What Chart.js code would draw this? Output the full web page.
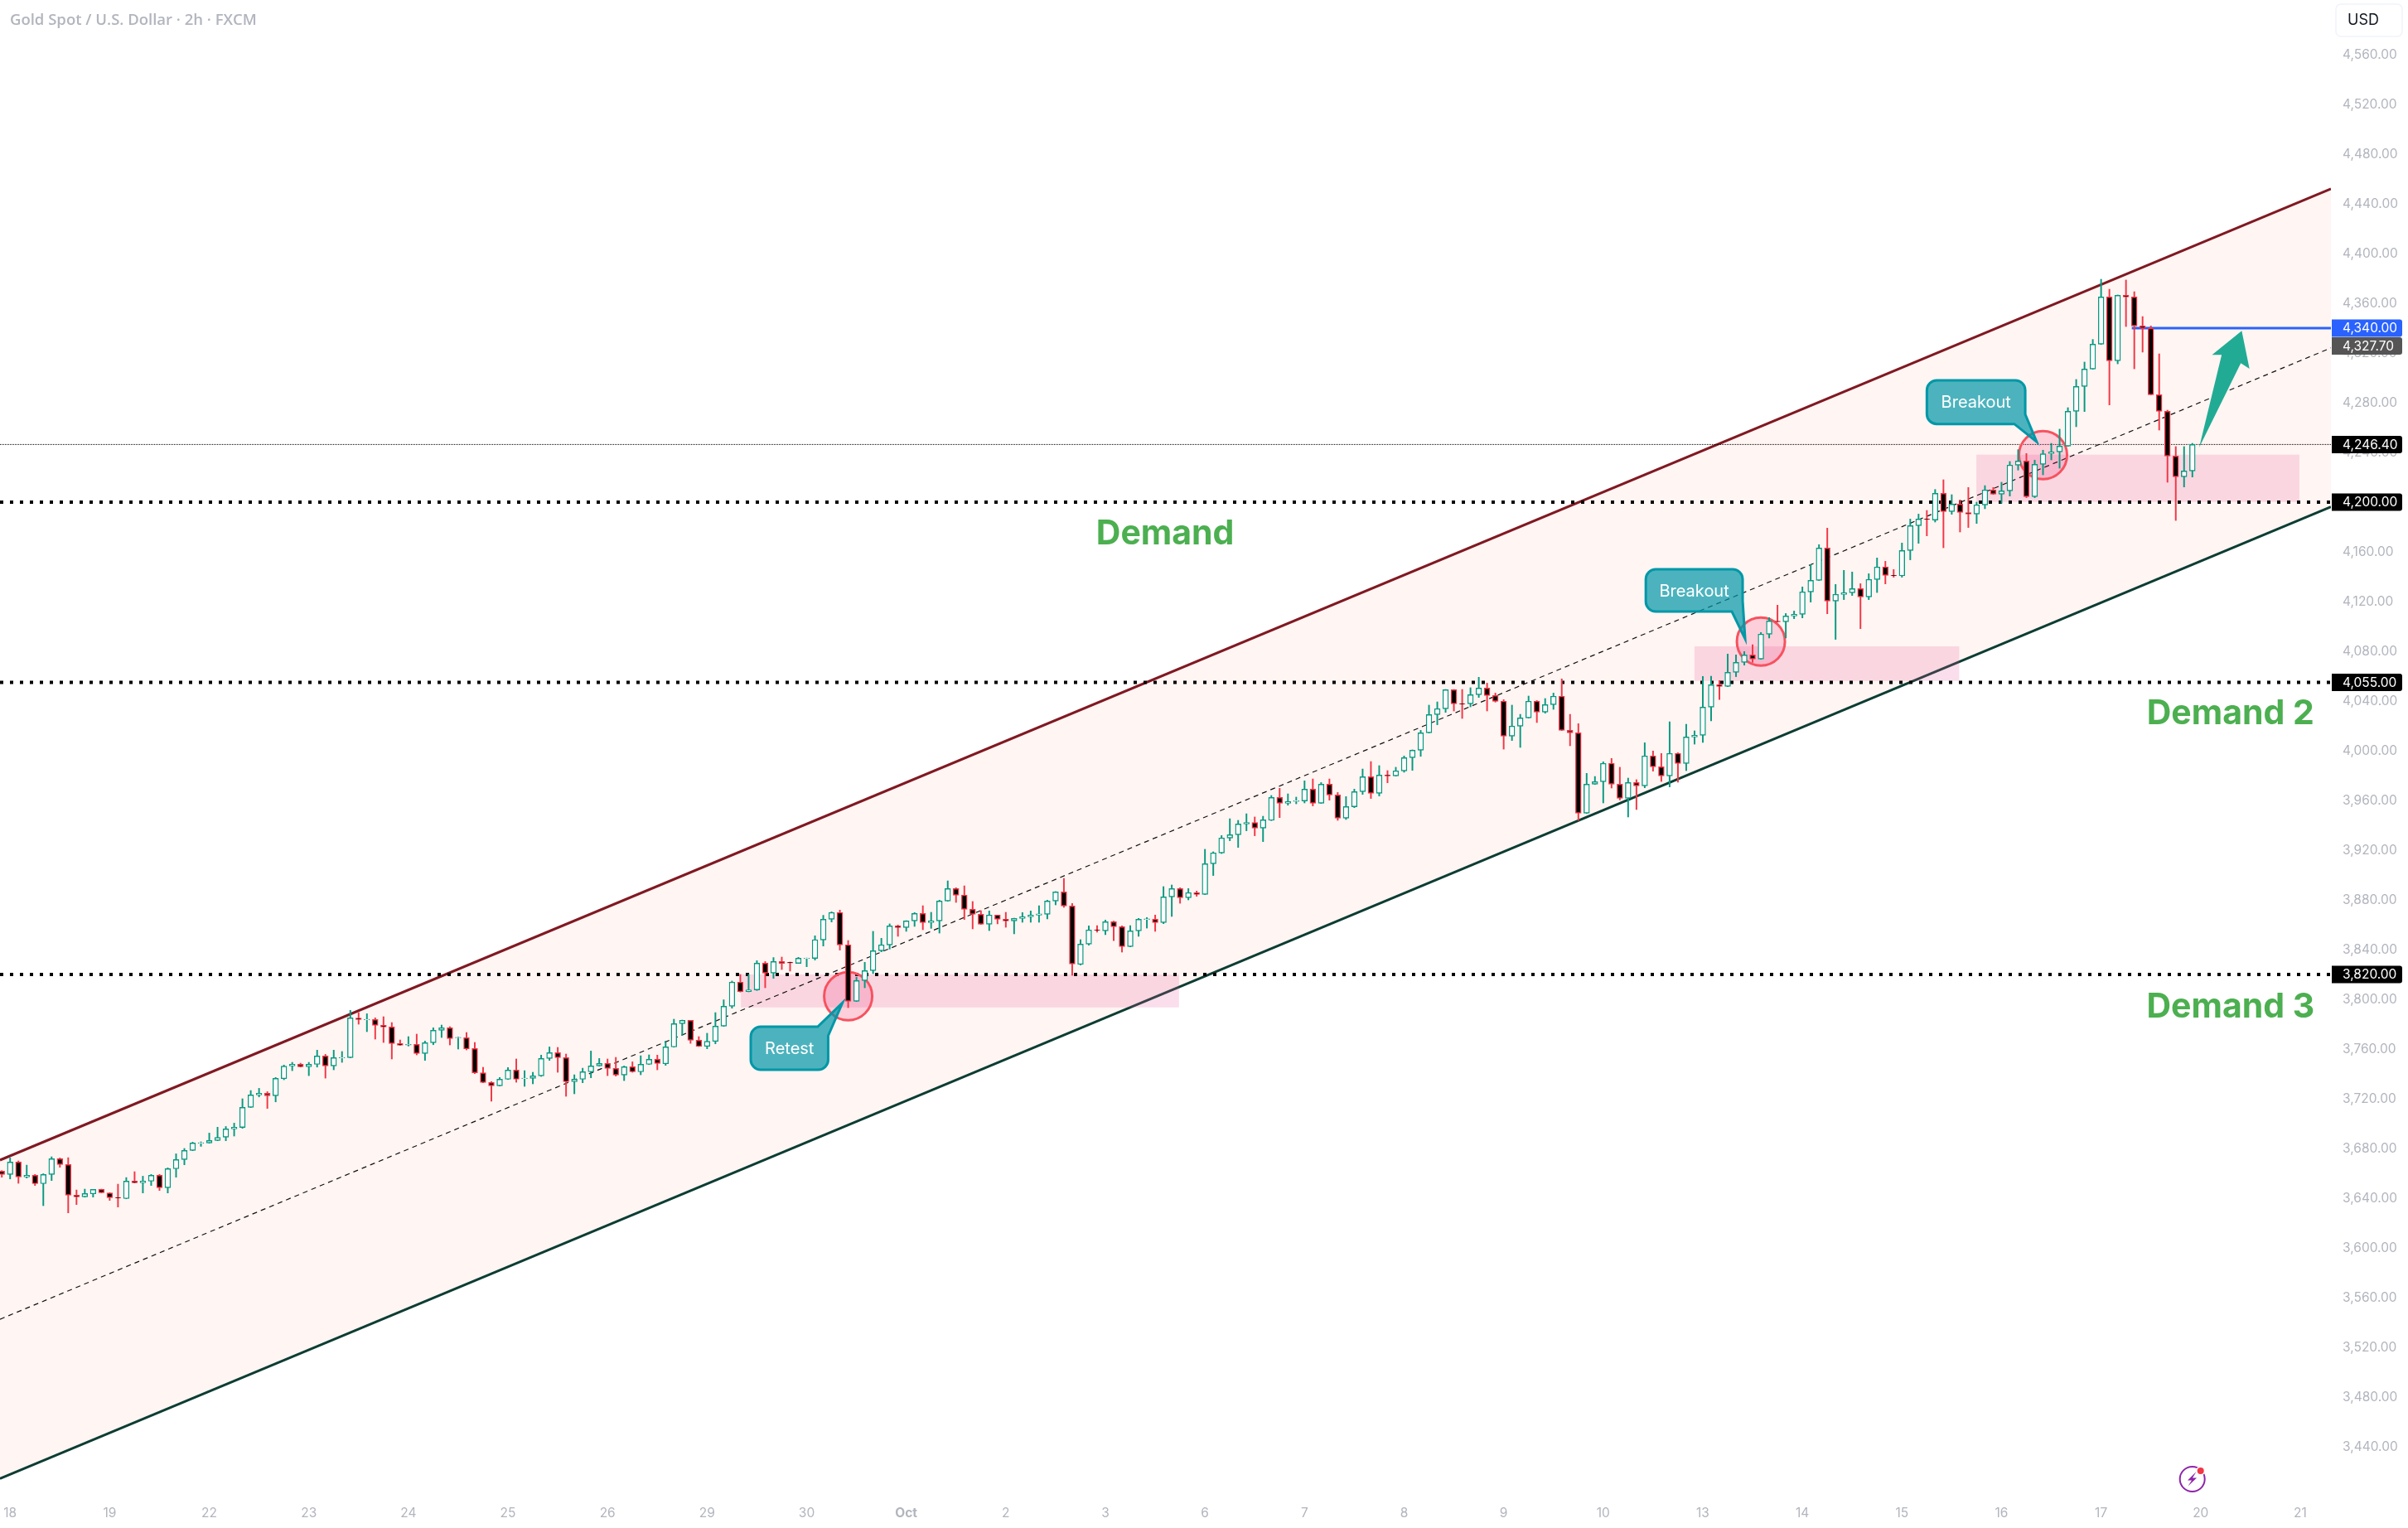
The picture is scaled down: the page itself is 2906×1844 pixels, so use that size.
<!DOCTYPE html>
<html lang="en">
<head>
    <meta charset="UTF-8">
    <title>Gold Spot / U.S. Dollar - 2h</title>
    <style>
        body { margin: 0; background: #ffffff; }
        canvas { display: block; }
    </style>
</head>
<body>
    <canvas id="goldChart" width="2906" height="1844"></canvas>
    <script src="https://cdn.jsdelivr.net/npm/chart.js"></script>
    <script>
        // 2h candles, one row per ten bars
        const opens = [
            3661.7,3659.1,3669.1,3657.1,3658.4,3651.7,3659.1,3671.7,3667.1,3642.4,
            3641.1,3643.5,3647.1,3644.2,3640.6,3639.7,3653.7,3652.4,3653.7,3658.4,
            3648.4,3663.7,3671.1,3678.4,3684.2,3684.4,3686.4,3689.1,3695.7,3696.9,
            3713.1,3723.1,3724.4,3722.4,3736.2,3746.4,3747.7,3745.7,3747.7,3754.4,
            3746.4,3752.9,3753.1,3784.9,3783.5,3783.7,3779.1,3777.7,3764.4,3763.3,
            3763.7,3756.4,3765.1,3775.1,3777.1,3769.1,3769.1,3760.4,3740.9,3733.1,
            3730.4,3735.7,3743.1,3736.2,3736.4,3738.4,3752.4,3757.1,3753.1,3733.7,
            3735.7,3741.7,3746.4,3748.4,3744.4,3739.1,3745.7,3741.7,3747.7,3751.7,
            3748.2,3761.7,3780.4,3783.1,3767.1,3762.2,3766.2,3778.4,3794.4,3813.8,
            3806.2,3807.6,3829.1,3821.1,3830.4,3829.8,3828.9,3832.7,3832.9,3847.8,
            3864.4,3869.8,3843.8,3798.4,3815.1,3823.1,3839.1,3843.8,3859.1,3857.8,
            3863.1,3869.1,3861.8,3863.1,3879.1,3889.1,3883.8,3872.4,3868.4,3860.4,
            3867.8,3864.4,3863.1,3865.1,3866.4,3867.8,3868.4,3879.1,3886.4,3875.1,
            3828.2,3844.4,3856,3855.1,3862.4,3858.4,3842.4,3855.1,3864.2,3864.4,
            3861.8,3882.4,3889.1,3881.8,3885.8,3884.4,3909.1,3917.8,3929.8,3932.4,
            3941.1,3942.2,3937.8,3944,3962.4,3957.8,3959.3,3959.6,3969.1,3957.8,
            3973.1,3964.4,3945.8,3954.9,3967.1,3979.1,3965.8,3980.4,3979.8,3983.8,
            3994.4,4000.4,4014.4,4029.1,4033.8,4049.1,4038,4037.8,4045.1,4050.4,
            4044.4,4039.8,4011.8,4019.8,4026.4,4039.8,4031.1,4037.1,4043.8,4016.4,
            4014.4,3949.8,3973.1,3975.1,3989.8,3973.1,3961.8,3974.4,3971.8,3995.8,
            3987.1,3979.8,3997.8,3989.8,4011.1,4012.4,4035.1,4053.1,4051.8,4063.1,
            4071.1,4077.1,4073.8,4093.8,4104.2,4103.8,4108.4,4109.8,4127.8,4137.1,
            4163.1,4120.4,4125.8,4127.1,4130.4,4123.8,4137.8,4147.8,4141.1,4140.7,
            4161.1,4181.1,4186.4,4185.6,4207.1,4192.4,4198.4,4191.6,4190.4,4197.8,
            4209.8,4206.4,4209.1,4229.8,4233.1,4204.4,4230.4,4239.1,4240.4,4245.1,
            4273.1,4293.1,4307.1,4327.1,4365.1,4313.8,4366.4,4365.1,4341.8,4339.8,
            4286.4,4273.1,4237.1,4220.4,4225.1
        ];
        const highs = [
            3662.2,3672.4,3670,3666.6,3659.1,3659.7,3673.3,3672.4,3672.6,3646.6,
            3647.3,3647.1,3647.3,3644.4,3651.3,3656.6,3661.3,3657.7,3659.1,3659.1,
            3664.4,3675.7,3680,3685.1,3685.3,3692.4,3697.1,3697.7,3700.4,3720,
            3726.6,3728.4,3725.7,3737.1,3747.1,3749.3,3748.6,3749.3,3759.1,3755.7,
            3759.1,3758,3791.1,3789.3,3788.4,3785.1,3786,3781.3,3767.3,3770,
            3772,3766.4,3777.1,3779.3,3778,3769.7,3773.3,3765.3,3745.3,3733.7,
            3737.1,3745.1,3752,3742.6,3741.3,3755.1,3761.7,3761.3,3756,3739.3,
            3744.6,3758.4,3752.4,3752,3753.3,3746.4,3749.7,3754.6,3755.3,3755.1,
            3766.4,3784,3783.3,3783.1,3770,3772.7,3789.3,3799.6,3814.7,3820,
            3820,3831.1,3830.4,3833.6,3834,3830,3833.8,3833.3,3851.1,3867.6,
            3870.4,3871.8,3847.3,3817.8,3829.8,3854.7,3849.1,3860.7,3859.8,3863.3,
            3869.8,3875.3,3870,3879.8,3895.3,3889.8,3891.3,3878.7,3871.3,3871.1,
            3867.8,3870,3865.3,3869.8,3871.1,3875.3,3879.8,3886.7,3897.3,3877.1,
            3848,3859.1,3859.3,3863.8,3862.9,3859.1,3859.3,3865.1,3865.8,3867.8,
            3890.7,3892,3889.8,3889.1,3887.1,3920.7,3918.7,3931.8,3945.3,3944,
            3949.3,3946.7,3947.3,3964,3969.8,3965.3,3962.7,3975.8,3977.3,3974.4,
            3977.3,3966.4,3963.1,3969.1,3985.3,3991.3,3988,3984,3986.7,3995.8,
            4000.7,4016.4,4036.7,4039.3,4049.3,4049.3,4049.3,4050.7,4059.1,4054.4,
            4046.4,4041.1,4036.7,4029.3,4044,4040.4,4042,4046.4,4057.8,4029.3,
            4021.8,3981.8,3979.3,3991.1,3993.8,3986.7,3978,3976.7,4006.4,3999.8,
            3997.8,4023.3,3998.4,4021.3,4016,4059.8,4060,4056.4,4077.8,4077.1,
            4079.8,4085.3,4095.1,4107.1,4117.1,4110.4,4112.4,4131.8,4149.8,4165.8,
            4179.1,4133.8,4145.1,4143.8,4134.4,4142.4,4155.1,4152.4,4145.8,4167.1,
            4186.4,4190.4,4193.3,4210.2,4218,4206,4201.8,4211.8,4200,4213.3,
            4211.8,4216,4232.7,4242.2,4239.1,4233.8,4241.8,4247.3,4258.7,4276,
            4298.7,4312.7,4330.9,4379.3,4371.3,4366.7,4378.7,4369.3,4349.3,4341.8,
            4319.3,4274,4244.7,4244.7,4247.3
        ];
        const lows = [
            3656.9,3655.5,3652,3656.2,3650.2,3634,3654.2,3664.9,3628.2,3634.9,
            3640.9,3640.9,3644.2,3638.2,3632.9,3639.5,3652.2,3644.2,3650.2,3646.2,
            3644.2,3656.9,3666.9,3678.2,3681.7,3684.2,3686.2,3686.2,3690,3696.2,
            3712.9,3721.5,3712.2,3717.5,3735.3,3742.6,3745.5,3738.6,3745.5,3736.6,
            3743.3,3749.3,3752.9,3780,3774,3768,3765.3,3752,3762.9,3762.4,
            3755.3,3750.9,3763.5,3769.3,3763.3,3760,3759.3,3740.2,3732.9,3718,
            3730.2,3735.5,3733.3,3730,3732,3738,3750.9,3741.3,3722,3724,
            3732.9,3736.9,3746.2,3738.6,3738.2,3734.6,3741.3,3739.3,3747.5,3743.3,
            3746.9,3761.5,3771.1,3764.6,3762,3760.2,3764.2,3778.2,3792.9,3805.8,
            3806,3807.1,3809.3,3816.9,3824,3822.7,3828.9,3826.2,3831.6,3842.9,
            3862.2,3839.6,3793.3,3798.2,3809.3,3820.7,3838.2,3840.4,3850.7,3854.7,
            3858.7,3856,3857.1,3853.3,3878.9,3878,3864.2,3856.7,3860.2,3855.3,
            3860.7,3858,3852.7,3862,3862,3862,3864.7,3876,3874,3819.3,
            3827.6,3843.6,3854,3852,3847.3,3838,3842.2,3850.7,3857.3,3854.7,
            3860.9,3866.7,3877.3,3880,3882.9,3884.2,3899.6,3917.3,3927.6,3922.2,
            3935.6,3931.6,3926.9,3943.8,3946.2,3956.2,3957.3,3958,3955.6,3957.6,
            3960.2,3944,3944.7,3954.2,3964.9,3961.6,3963.6,3974.2,3979.6,3982.7,
            3984.2,3995.5,4014.2,4020.9,4030.9,4032,4026,4035.3,4042.9,4032,
            4039.1,4001.3,4008.2,4002.7,4026.2,4022.7,4030.2,4033.3,4016.2,4004,
            3944,3949.6,3972.9,3958,3970,3960.4,3946.7,3952.7,3970.2,3983.6,
            3975.3,3970.9,3974.7,3984,4005.3,4006.7,4024,4041.3,4051.6,4059.6,
            4068.9,4071.1,4073.6,4090.7,4103.6,4090.7,4106.2,4106.9,4119.6,4136.9,
            4110.2,4089.6,4121.6,4124.9,4098.2,4121.6,4127.3,4134.2,4139.6,4139.6,
            4153.6,4166.9,4172.9,4184,4163.3,4190.2,4176,4179.6,4182.9,4194.7,
            4206.2,4199.1,4204.9,4225.8,4203.6,4203.6,4222,4234,4227.3,4244.9,
            4260.7,4272.9,4306.9,4326.9,4278.2,4311.3,4341.3,4307.3,4320.7,4286.2,
            4258,4216,4185.3,4212.2,4220.2
        ];
        const closes = [
            3659.1,3669.1,3657.1,3658.4,3651.7,3659.1,3671.7,3667.1,3642.4,3641.1,
            3643.7,3647.1,3644.4,3640.4,3640.2,3653.7,3652.4,3653.7,3658.4,3648.4,
            3663.7,3671.1,3678.4,3684.4,3684.6,3686.4,3688.9,3695.7,3697.1,3713.1,
            3723.1,3724.4,3722.4,3736.4,3746.2,3747.7,3745.7,3747.7,3754.4,3746.4,
            3753.1,3753.3,3785.1,3783.7,3784,3779.1,3777.7,3764.4,3763.1,3763.7,
            3756.4,3765.1,3775.1,3777.1,3768.4,3769.5,3760.2,3740.9,3733.1,3730.4,
            3735.7,3743.1,3735.7,3736.6,3738.4,3752.4,3757.1,3753.1,3733.7,3735.7,
            3741.7,3746.4,3748.4,3744.4,3739.1,3745.7,3741.7,3747.7,3751.7,3748.4,
            3761.7,3780.4,3783.1,3767.1,3762.2,3766.2,3778.4,3794.4,3813.8,3806.2,
            3807.6,3829.1,3821.1,3830.4,3828.9,3829.3,3833.1,3833.1,3848,3864.4,
            3869.8,3843.8,3798.4,3815.1,3823.1,3839.1,3843.8,3859.1,3857.8,3863.1,
            3869.1,3861.8,3863.1,3879.1,3889.1,3883.8,3872.4,3868.4,3860.4,3867.8,
            3864.4,3863.1,3865.1,3866.4,3867.8,3868.7,3879.1,3886.4,3875.1,3828.4,
            3844.4,3855.8,3855.6,3862.4,3858.4,3842.4,3855.1,3864.4,3864.7,3861.8,
            3882.4,3889.1,3881.8,3885.8,3884.4,3909.1,3917.8,3929.8,3932.4,3941.1,
            3942.2,3937.8,3944.4,3962.4,3957.8,3959.1,3959.8,3969.1,3957.8,3973.1,
            3964.4,3945.8,3955.1,3967.1,3979.1,3965.8,3980.4,3979.8,3983.8,3994.4,
            4000.4,4014.4,4029.1,4033.8,4049.1,4037.8,4037.6,4045.1,4050.4,4044.4,
            4039.8,4011.8,4019.8,4026.4,4039.8,4031.1,4037.1,4043.8,4016.4,4014.4,
            3949.8,3973.1,3975.1,3989.8,3973.1,3961.8,3974.4,3971.8,3995.8,3987.1,
            3979.8,3997.8,3989.8,4011.1,4012.4,4035.1,4053.1,4051.8,4063.1,4071.1,
            4077.1,4073.8,4093.8,4104.4,4103.8,4108.4,4109.8,4127.8,4137.1,4163.1,
            4120.4,4125.8,4127.1,4130.4,4123.8,4137.8,4147.8,4141.1,4140.7,4161.1,
            4181.1,4186.4,4186,4207.1,4192.4,4198.4,4191.8,4190.4,4197.8,4209.8,
            4206.4,4209.1,4229.8,4233.1,4204.4,4230.4,4238.9,4240.4,4245.1,4273.1,
            4293.1,4307.1,4327.1,4365.1,4313.8,4366.4,4365.1,4341.8,4339.8,4286.4,
            4273.1,4237.1,4220.4,4225.1,4246.4
        ];

        // axes
        const priceTicks = [
            3440,3480,3520,3560,3600,3640,3680,3720,3760,3800,3840,3880,3920,3960,4000,
            4040,4080,4120,4160,4200,4240,4280,4320,4360,4400,4440,4480,4520,4560
        ];
        const dayLabels = ['18','19','22','23','24','25','26','29','30','Oct','2','3','6','7','8','9','10','13','14','15','16','17','20','21'];
        const dayBars = [1,13,25,37,49,61,73,85,97,109,121,133,145,157,169,181,193,205,217,229,241,253,265,277];

        // drawn levels
        const demandLevels = [4200, 4055, 3820];
        const lastPrice = 4246.4;
        const targetPrice = 4340;
        const targetFromBar = 256.7;
        const channelBars = [-0.22, 280.7];
        const channelUpper = [3670.67, 4452];
        const channelLower = [3414.47, 4196.2];
        const channelMiddle = [3542.6, 4324.1];

        // bar and price coordinates of the trade drawings
        const zones = [
            [89.07, 141.87, 3820, 3793.5],
            [204, 235.9, 4084, 4056.2],
            [237.97, 276.9, 4238.2, 4200.2]
        ];
        const rings = [[102, 3802.5], [212, 4087.8], [246, 4237.8]];
        const callouts = [
            { text: 'Retest', l: 90.26, r: 99.59, t: 3778, b: 3743.3, tip: [101.32, 3797.3], baseBar: 98.33, basePrice: 3770.67, onTop: true },
            { text: 'Breakout', l: 198.13, r: 209.8, t: 4146, b: 4112, tip: [210.1, 4090], baseBar: 208.5, basePrice: 4120.67, onTop: false },
            { text: 'Breakout', l: 232, r: 243.86, t: 4298, b: 4262.87, tip: [245.24, 4248.47], baseBar: 242.54, basePrice: 4270.67, onTop: false }
        ];
        const arrowPath = [
            [264.82, 4244], [267.53, 4318.47], [266.37, 4318.47],
            [269.95, 4337.8], [270.88, 4307.33], [269.84, 4311.8]
        ];
        const demandTexts = [
            ['Demand', 140.2, 4174.4],
            ['Demand 2', 268.6, 4029.7],
            ['Demand 3', 268.6, 3793.7]
        ];
        const priceTags = [
            ['4,340.00', targetPrice, '#2962ff', 0],
            ['4,327.70', 4327.7, '#555555', 3],
            ['4,246.40', lastPrice, '#000000', 0],
            ['4,200.00', 4200, '#000000', 0],
            ['4,055.00', 4055, '#000000', 0],
            ['3,820.00', 3820, '#000000', 0]
        ];

        const UP = '#089981';
        const DOWN = '#f23645';
        const AXIS_TEXT = '#b2b5be';
        const AXIS_FONT = '15.5px Inter';

        const bars = opens.map((_, i) => i);
        const candleColors = bars.map(i => closes[i] >= opens[i] ? UP : DOWN);
        const bodyFills = bars.map(i => closes[i] >= opens[i] ? '#ffffff' : '#000000');

        function lineData(xs, ys) {
            return xs.map((x, n) => ({ x: x, y: ys[n] }));
        }

        function priceLine(price, fromBar, color, width, dash, order) {
            return {
                type: 'line',
                data: lineData([fromBar, channelBars[1]], [price, price]),
                borderColor: color,
                borderWidth: width,
                borderDash: dash,
                borderCapStyle: 'butt',
                pointRadius: 0,
                order: order
            };
        }

        // the plot fills the canvas, so the scales must not reserve room for their end labels
        function noScalePadding(scale) {
            scale.paddingLeft = scale.paddingRight = scale.paddingTop = scale.paddingBottom = 0;
        }

        function roundedBox(ctx, x, y, w, h, r) {
            ctx.beginPath();
            ctx.roundRect(x, y, w, h, r);
        }

        function drawZones(chart) {
            const { ctx, scales: { x, y } } = chart;
            ctx.save();
            ctx.fillStyle = 'rgba(230, 90, 153, 0.2)';
            zones.forEach(z => {
                const left = x.getPixelForValue(z[0]);
                const top = y.getPixelForValue(z[2]);
                ctx.fillRect(left, top, x.getPixelForValue(z[1]) - left, y.getPixelForValue(z[3]) - top);
            });
            ctx.restore();
        }

        function drawCallout(ctx, x, y, c) {
            const L = x.getPixelForValue(c.l), R = x.getPixelForValue(c.r);
            const T = y.getPixelForValue(c.t), B = y.getPixelForValue(c.b);
            const tipX = x.getPixelForValue(c.tip[0]), tipY = y.getPixelForValue(c.tip[1]);
            const baseX = x.getPixelForValue(c.baseBar), baseY = y.getPixelForValue(c.basePrice);
            const r = 12;
            ctx.beginPath();
            ctx.moveTo(L + r, T);
            if (c.onTop) {
                ctx.lineTo(baseX, T);
                ctx.lineTo(tipX, tipY);
                ctx.lineTo(R, baseY);
                ctx.lineTo(R, B - r);
                ctx.arcTo(R, B, R - r, B, r);
            } else {
                ctx.lineTo(R - r, T);
                ctx.arcTo(R, T, R, T + r, r);
                ctx.lineTo(R, baseY);
                ctx.lineTo(tipX, tipY);
                ctx.lineTo(baseX, B);
            }
            ctx.lineTo(L + r, B);
            ctx.arcTo(L, B, L, B - r, r);
            ctx.lineTo(L, T + r);
            ctx.arcTo(L, T, L + r, T, r);
            ctx.closePath();
            ctx.fillStyle = 'rgba(0, 151, 167, 0.7)';
            ctx.fill();
            ctx.strokeStyle = '#0097a7';
            ctx.lineWidth = 3;
            ctx.stroke();
            ctx.fillStyle = '#ffffff';
            ctx.font = '20px Inter';
            ctx.textAlign = 'center';
            ctx.textBaseline = 'middle';
            ctx.fillText(c.text, (L + R) / 2, (T + B) / 2 + 1);
        }

        function drawDrawings(chart) {
            const { ctx, scales: { x, y } } = chart;
            ctx.save();
            rings.forEach(ring => {
                ctx.beginPath();
                ctx.arc(x.getPixelForValue(ring[0]), y.getPixelForValue(ring[1]), 29, 0, Math.PI * 2);
                ctx.fillStyle = 'rgba(242, 54, 120, 0.2)';
                ctx.fill();
                ctx.strokeStyle = '#f7525f';
                ctx.lineWidth = 3;
                ctx.stroke();
            });
            callouts.forEach(c => drawCallout(ctx, x, y, c));

            ctx.beginPath();
            arrowPath.forEach((p, n) => {
                const px = x.getPixelForValue(p[0]), py = y.getPixelForValue(p[1]);
                if (n === 0) ctx.moveTo(px, py); else ctx.lineTo(px, py);
            });
            ctx.closePath();
            ctx.fillStyle = '#22ab94';
            ctx.fill();
            ctx.restore();
        }

        function drawLogo(ctx) {
            ctx.save();
            ctx.strokeStyle = '#8e24aa';
            ctx.lineWidth = 2;
            ctx.beginPath();
            ctx.arc(2645.7, 1785, 15, 0, Math.PI * 2);
            ctx.stroke();
            ctx.fillStyle = '#8e24aa';
            ctx.beginPath();
            [[2650.5, 1776], [2640, 1786.5], [2645, 1786.5], [2640.5, 1793.5], [2651, 1783.5], [2646, 1783.5]]
                .forEach((p, n) => n ? ctx.lineTo(p[0], p[1]) : ctx.moveTo(p[0], p[1]));
            ctx.closePath();
            ctx.fill();
            ctx.fillStyle = '#ffffff';
            ctx.beginPath();
            ctx.arc(2655.7, 1775, 5.5, 0, Math.PI * 2);
            ctx.fill();
            ctx.fillStyle = '#f23645';
            ctx.beginPath();
            ctx.arc(2655.7, 1775, 4, 0, Math.PI * 2);
            ctx.fill();
            ctx.restore();
        }

        const drawingsPlugin = {
            id: 'drawings',
            afterDatasetDraw(chart, args) {
                const role = chart.data.datasets[args.index].role;
                if (role === 'zones') drawZones(chart);
                if (role === 'drawings') drawDrawings(chart);
            },
            afterDraw(chart) {
                const { ctx, scales: { x, y } } = chart;
                ctx.save();

                // demand captions
                ctx.fillStyle = '#4caf50';
                ctx.font = 'bold 41px Inter';
                ctx.textAlign = 'center';
                ctx.textBaseline = 'middle';
                demandTexts.forEach(t => ctx.fillText(t[0], x.getPixelForValue(t[1]), y.getPixelForValue(t[2])));

                // price tags on the axis
                ctx.font = AXIS_FONT;
                ctx.textAlign = 'left';
                priceTags.forEach(tag => {
                    const py = y.getPixelForValue(tag[1]) + tag[3];
                    ctx.fillStyle = tag[2];
                    roundedBox(ctx, 2814, py - 10.5, 85, 21, [0, 3, 3, 0]);
                    ctx.fill();
                    ctx.fillStyle = '#ffffff';
                    ctx.fillText(tag[0], 2827, py + 0.5);
                });

                // legend line and currency button
                ctx.fillStyle = '#b2b5be';
                ctx.font = '600 18.5px "Open Sans"';
                ctx.textBaseline = 'middle';
                ctx.fillText('Gold Spot / U.S. Dollar · 2h · FXCM', 12, 25);

                ctx.strokeStyle = '#f0f3fa';
                ctx.lineWidth = 1.5;
                roundedBox(ctx, 2819, 5, 80, 39, 6);
                ctx.stroke();
                ctx.fillStyle = '#131722';
                ctx.font = '18px Inter';
                ctx.fillText('USD', 2833, 25);

                drawLogo(ctx);
                ctx.restore();
            }
        };

        new Chart(document.getElementById('goldChart'), {
            type: 'bar',
            plugins: [drawingsPlugin],
            data: {
                datasets: [
                    // rising channel with its band
                    {
                        type: 'line',
                        data: lineData(channelBars, channelUpper),
                        borderColor: '#801922',
                        borderWidth: 3,
                        pointRadius: 0,
                        fill: 1,
                        backgroundColor: '#fff5f3',
                        order: 20
                    },
                    {
                        type: 'line',
                        role: 'zones',
                        data: lineData(channelBars, channelLower),
                        borderColor: '#0c3d33',
                        borderWidth: 3,
                        pointRadius: 0,
                        order: 19
                    },
                    {
                        type: 'line',
                        data: lineData(channelBars, channelMiddle),
                        borderColor: '#111111',
                        borderWidth: 1.2,
                        borderDash: [6, 5],
                        pointRadius: 0,
                        order: 18
                    },
                    priceLine(demandLevels[0], channelBars[0], '#000000', 4, [4, 8], 17),
                    priceLine(demandLevels[1], channelBars[0], '#000000', 4, [4, 8], 16),
                    priceLine(demandLevels[2], channelBars[0], '#000000', 4, [4, 8], 15),
                    priceLine(lastPrice, channelBars[0], '#000000', 1, [1, 1], 14),
                    Object.assign(priceLine(targetPrice, targetFromBar, '#2962ff', 3, [], 13), { role: 'drawings' }),
                    // wicks sit under the bodies
                    {
                        data: bars.map(i => ({ x: i, y: [lows[i], highs[i]] })),
                        backgroundColor: candleColors,
                        barThickness: 1.3,
                        borderWidth: 0,
                        grouped: false,
                        order: 2
                    },
                    {
                        data: bars.map(i => ({ x: i, y: [opens[i], closes[i]] })),
                        backgroundColor: bodyFills,
                        borderColor: candleColors,
                        borderWidth: 1.4,
                        borderSkipped: false,
                        barThickness: 6.8,
                        grouped: false,
                        order: 1
                    }
                ]
            },
            options: {
                responsive: false,
                animation: false,
                devicePixelRatio: 1,
                events: [],
                layout: { padding: 0, autoPadding: false },
                plugins: {
                    legend: { display: false },
                    tooltip: { enabled: false },
                    title: { display: false }
                },
                elements: { line: { tension: 0 } },
                scales: {
                    x: {
                        type: 'linear',
                        offset: false,
                        min: channelBars[0],
                        max: channelBars[1],
                        grid: { display: false, drawTicks: false },
                        border: { display: false },
                        afterFit(scale) { scale.height = 34; noScalePadding(scale); },
                        afterBuildTicks(scale) { scale.ticks = dayBars.map(v => ({ value: v })); },
                        ticks: {
                            autoSkip: false,
                            maxRotation: 0,
                            minRotation: 0,
                            padding: 7,
                            color: AXIS_TEXT,
                            font(ctx) {
                                const isMonth = ctx.tick && ctx.tick.label === 'Oct';
                                return { family: 'Inter', size: 15.5, weight: isMonth ? 'bold' : 'normal' };
                            },
                            callback(value) { return dayLabels[dayBars.indexOf(value)]; }
                        }
                    },
                    y: {
                        type: 'linear',
                        position: 'right',
                        min: 3397.33,
                        max: 4604,
                        grid: { display: false, drawTicks: false },
                        border: { display: false },
                        afterFit(scale) { scale.width = 93; noScalePadding(scale); },
                        afterBuildTicks(scale) { scale.ticks = priceTicks.map(v => ({ value: v })); },
                        ticks: {
                            autoSkip: false,
                            crossAlign: 'near',
                            padding: 14,
                            color: AXIS_TEXT,
                            font: { family: 'Inter', size: 15.5 },
                            callback(value) {
                                return value.toLocaleString('en-US', { minimumFractionDigits: 2, maximumFractionDigits: 2 });
                            }
                        }
                    }
                }
            }
        });
    </script>
</body>
</html>
